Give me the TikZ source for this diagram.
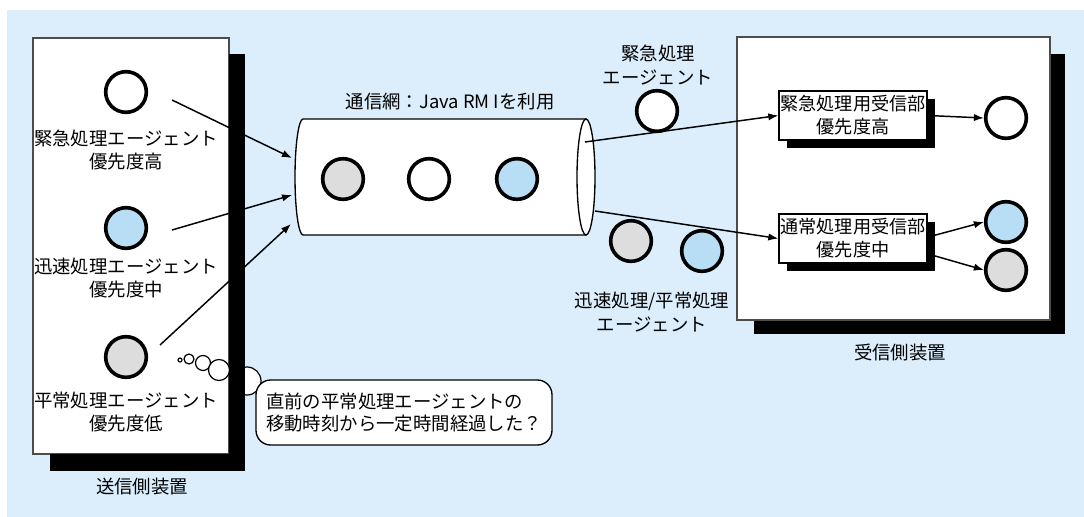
\documentclass[tikz,border=0pt]{standalone}
\usepackage{fontspec}
\setmainfont{Noto Sans CJK JP}
\usetikzlibrary{arrows.meta,calc}
\definecolor{bgblue}{RGB}{220,238,252}
\definecolor{agblue}{RGB}{184,222,245}
\definecolor{aggray}{RGB}{221,221,221}
\begin{document}
\begin{tikzpicture}[x=0.75pt,y=-0.75pt,
  agent/.style={circle,draw=black,line width=2.7pt,minimum size=30.5pt,inner sep=0pt},
  lbl/.style={font=\fontsize{13.8}{17.5}\selectfont,align=center,inner sep=0pt},
  arr/.style={-{Latex[length=7.5pt,width=5.5pt]},line width=1.1pt},
  panel/.style={draw=black!70,line width=0.8pt,fill=white},
  rbox/.style={draw=black,line width=1pt,fill=white,minimum width=111pt,minimum height=36.75pt,
     align=center,inner sep=0pt,font=\fontsize{13.6}{17.2}\selectfont},
  notebox/.style={draw=black,line width=1pt,fill=white,rounded corners=11pt,minimum width=222pt,
     minimum height=48.75pt,align=left,inner sep=0pt,font=\fontsize{13.8}{16.5}\selectfont},
  bubble/.style={draw=black,line width=0.9pt,fill=white}]
\useasboundingbox (0,0) rectangle (1084,517);
\fill[bgblue] (7,10) rectangle (1084,517);

% receiver device
\fill[black] (754,54) rectangle (1065,334);
\draw[panel] (737,37) rectangle (1050,320);
\node[lbl] (rlabel) at (900,353) {受信側装置};

% sender device
\draw[panel] (33,38) rectangle (229,454);
\draw[bubble] (180,360) circle[radius=2];
\draw[bubble] (189,359) circle[radius=5];
\draw[bubble] (203,363) circle[radius=7.5];
\draw[bubble] (219,370) circle[radius=10.5];
\draw[bubble] (247,381) circle[radius=14];
\fill[black] (229,54) rectangle (245,471);
\fill[black] (50,454) rectangle (245,471);
\node[lbl] (slabel) at (142,487) {送信側装置};

% sender agents
\node[agent,fill=white] (s1) at (126,92) {};
\node[lbl] (s1l) at (126,150) {緊急処理エージェント\\優先度高};
\node[agent,fill=agblue] (s2) at (126,228) {};
\node[lbl] (s2l) at (126,278) {迅速処理エージェント\\優先度中};
\node[agent,fill=aggray] (s3) at (126,357) {};
\node[lbl] (s3l) at (126,412) {平常処理エージェント\\優先度低};

% network cylinder
\draw[line width=1pt,fill=white] (303,119) -- (586,119) -- (586,235) -- (303,235)
   .. controls (298.6,235) and (295,209) .. (295,177)
   .. controls (295,145) and (298.6,119) .. (303,119) -- cycle;
\draw[line width=1pt,fill=white] (586,177) ellipse[x radius=9,y radius=58];
\node[lbl] (netlabel) at (450,102) {通信網：Java RM Iを利用};
\node[agent,fill=aggray] (n1) at (343,179) {};
\node[agent,fill=white] (n2) at (429,179) {};
\node[agent,fill=agblue] (n3) at (517,179) {};

\coordinate (a1s) at (172,100);
\coordinate (a1e) at (292,158);
\coordinate (a2s) at (172,230);
\coordinate (a2e) at (292,195);
\coordinate (a3s) at (160,345);
\coordinate (a3e) at (291,224);
\draw[arr] (a1s) -- (a1e);
\draw[arr] (a2s) -- (a2e);
\draw[arr] (a3s) -- (a3e);

% agents in transit
\node[agent,fill=white] (t1) at (657,111) {};
\node[lbl] (t1l) at (658,65) {緊急処理\\エージェント};
\node[agent,fill=aggray] (t2) at (631,241) {};
\node[agent,fill=agblue] (t3) at (702,251) {};
\node[lbl] (t2l) at (652,312) {迅速処理/平常処理\\エージェント};

% receiver units
\fill[black] (787,99) rectangle (935,148);
\node[rbox] (b1) at (853,115.5) {緊急処理用受信部\\優先度高};
\fill[black] (787,222) rectangle (935,271);
\node[rbox] (b2) at (853,238.5) {通常処理用受信部\\優先度中};

\node[agent,fill=white] (r1) at (1006,118) {};
\node[agent,fill=agblue] (r2) at (1006,222) {};
\node[agent,fill=aggray] (r3) at (1006,270) {};

\coordinate (c1s) at (585,142);
\coordinate (c2s) at (595,211);
\draw[arr] (c1s) -- (b1.west);
\draw[arr] (c2s) -- (b2.west);
\draw[arr] (b1.east) -- (r1.west);
\draw[arr] ([yshift=1pt]b2.east) -- (r2.west);
\draw[arr] ([yshift=-11.5pt]b2.east) -- (r3.west);

% thought
\node[notebox] (note) at (404,412.5) {直前の平常処理エージェントの\\移動時刻から一定時間経過した？};
\end{tikzpicture}
\end{document}
